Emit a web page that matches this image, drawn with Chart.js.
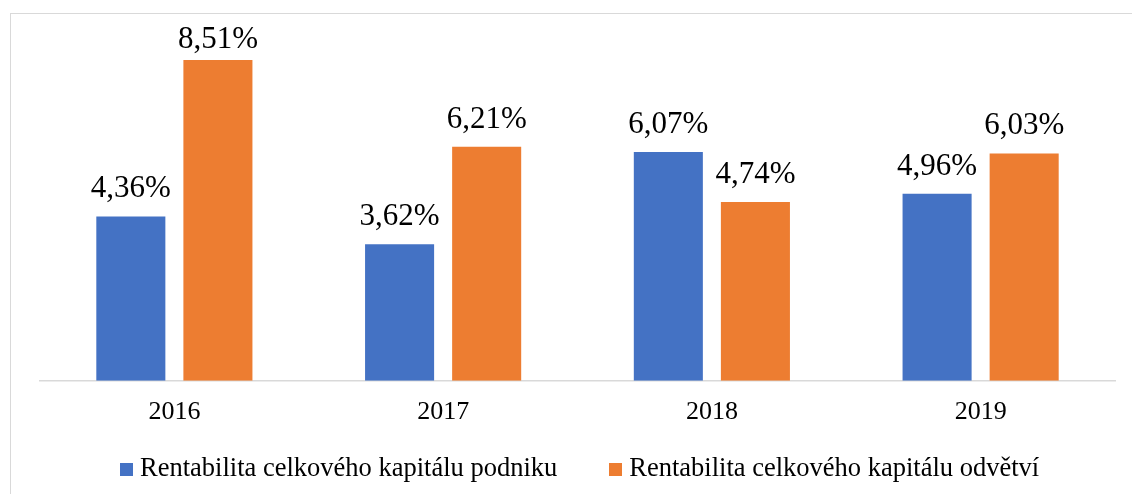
<!DOCTYPE html>
<html>
<head>
<meta charset="utf-8">
<script src="https://cdn.jsdelivr.net/npm/chart.js@4"></script>
<style>
  html, body { margin: 0; padding: 0; background: #fff; overflow: hidden; }
  #wrap { position: relative; width: 1132px; height: 494px; }
  #frame { position: absolute; left: 10px; top: 13px; width: 1140px; height: 500px; border: 1px solid #d9d9d9; box-sizing: border-box; }
  #legend { position: absolute; left: 120px; top: 452px; display: flex; align-items: center;
    font-family: "Liberation Serif", "Times New Roman", serif; font-size: 26.5px; color: #000; white-space: nowrap; }
  .item { display: flex; align-items: center; margin-right: 52px; }
  .box { width: 13px; height: 13px; margin-right: 7px; margin-top: 3px; }
</style>
</head>
<body>
<div id="wrap">
  <div id="frame"></div>
  <canvas id="chart" width="1132" height="494"></canvas>
  <div id="legend"></div>
</div>
<script>
const years = ["2016", "2017", "2018", "2019"];
const podnik = [4.36, 3.62, 6.07, 4.96];
const odvetvi = [8.51, 6.21, 4.74, 6.03];
const seriesNames = ["Rentabilita celkového kapitálu podniku", "Rentabilita celkového kapitálu odvětví"];
const colors = ["#4472C4", "#ED7D31"];

const serif = "'Liberation Serif', 'Times New Roman', serif";

// percent labels above the bars, Czech decimal comma
const valueLabels = {
  id: "valueLabels",
  afterDatasetsDraw(chart) {
    const ctx = chart.ctx;
    ctx.save();
    ctx.font = "31px " + serif;
    ctx.fillStyle = "#000";
    ctx.textAlign = "center";
    ctx.textBaseline = "alphabetic";
    chart.data.datasets.forEach((ds, i) => {
      chart.getDatasetMeta(i).data.forEach((bar, j) => {
        const txt = ds.data[j].toFixed(2).replace(".", ",") + "%";
        ctx.fillText(txt, bar.x, Math.max(bar.y - 19, 48));
      });
    });
    ctx.restore();
  }
};

new Chart(document.getElementById("chart"), {
  type: "bar",
  data: {
    labels: years,
    datasets: [
      { label: seriesNames[0], data: podnik, backgroundColor: colors[0] },
      { label: seriesNames[1], data: odvetvi, backgroundColor: colors[1] }
    ]
  },
  options: {
    responsive: false,
    animation: false,
    layout: { padding: { left: 40, right: 17, top: 41.5, bottom: 58 } },
    datasets: { bar: { categoryPercentage: 0.648, barPercentage: 0.793 } },
    plugins: { legend: { display: false }, tooltip: { enabled: false } },
    scales: {
      x: {
        grid: { display: false },
        border: { display: true, color: "#d9d9d9", width: 1.5 },
        ticks: { color: "#000", font: { family: serif, size: 26 }, padding: 8 }
      },
      y: {
        display: false,
        min: 0,
        max: 9
      }
    }
  },
  plugins: [valueLabels]
});

const legend = document.getElementById("legend");
seriesNames.forEach((name, i) => {
  const item = document.createElement("div");
  item.className = "item";
  item.innerHTML = `<span class="box" style="background:${colors[i]}"></span><span>${name}</span>`;
  legend.appendChild(item);
});
</script>
</body>
</html>
